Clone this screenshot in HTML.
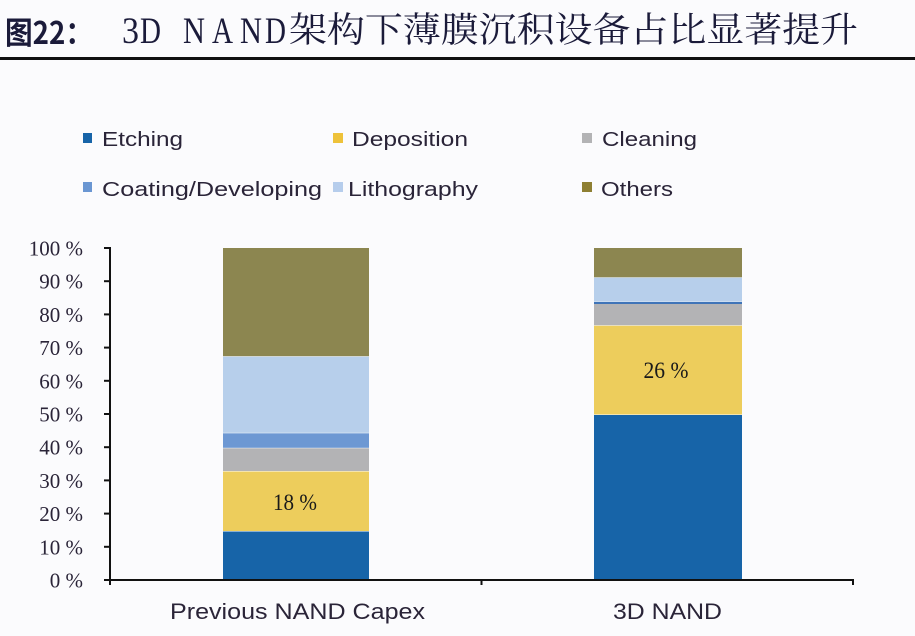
<!DOCTYPE html>
<html>
<head>
<meta charset="utf-8">
<style>
  html,body{margin:0;padding:0;background:#fbfbfd;}
  svg{display:block;}
</style>
</head>
<body>
<svg width="915" height="636" viewBox="0 0 915 636" xmlns="http://www.w3.org/2000/svg">
  <rect x="0" y="0" width="915" height="636" fill="#fbfbfd"/>

  <!-- Title -->
  <text x="5" y="44" font-family="'Noto Sans CJK SC','Liberation Sans',sans-serif" font-weight="bold" font-size="31" fill="#1b1b3a" textLength="88" lengthAdjust="spacingAndGlyphs">图22：</text>
  <g font-family="'Liberation Serif',serif" font-size="37" fill="#1b1b3a">
    <text x="122" y="43" textLength="17" lengthAdjust="spacingAndGlyphs">3</text>
    <text x="140" y="43" textLength="21" lengthAdjust="spacingAndGlyphs">D</text>
    <text x="183" y="43" textLength="22" lengthAdjust="spacingAndGlyphs">N</text>
    <text x="212" y="43" textLength="21" lengthAdjust="spacingAndGlyphs">A</text>
    <text x="240" y="43" textLength="22" lengthAdjust="spacingAndGlyphs">N</text>
    <text x="265" y="43" textLength="21" lengthAdjust="spacingAndGlyphs">D</text>
  </g>
  <text x="289" y="42" font-family="'Liberation Serif','Noto Serif CJK SC',serif" font-size="35" fill="#1b1b3a" textLength="569" lengthAdjust="spacingAndGlyphs">架构下薄膜沉积设备占比显著提升</text>
  <rect x="0" y="57" width="915" height="3" fill="#111"/>

  <!-- Legend -->
  <g font-family="'Liberation Sans',sans-serif" font-size="20" fill="#2a2438">
    <rect x="83" y="133" width="9" height="10" fill="#1764a8"/>
    <text x="102" y="146" textLength="81" lengthAdjust="spacingAndGlyphs">Etching</text>
    <rect x="333" y="133" width="10" height="10" fill="#eec23a"/>
    <text x="352" y="146" textLength="116" lengthAdjust="spacingAndGlyphs">Deposition</text>
    <rect x="582" y="133" width="10" height="10" fill="#b3b3b5"/>
    <text x="602" y="146" textLength="95" lengthAdjust="spacingAndGlyphs">Cleaning</text>

    <rect x="83" y="182" width="9" height="10" fill="#6a96d2"/>
    <text x="102" y="196" textLength="220" lengthAdjust="spacingAndGlyphs">Coating/Developing</text>
    <rect x="333" y="182" width="10" height="10" fill="#b6cdec"/>
    <text x="348" y="196" textLength="130" lengthAdjust="spacingAndGlyphs">Lithography</text>
    <rect x="582" y="182" width="10" height="10" fill="#8e7f33"/>
    <text x="601" y="196" textLength="72" lengthAdjust="spacingAndGlyphs">Others</text>
  </g>

  <!-- Bar 1: Previous NAND Capex -->
  <rect x="223" y="531.5" width="146" height="48.5" fill="#1764a8"/>
  <rect x="223" y="471.5" width="146" height="59.5" fill="#edcd5c"/>
  <rect x="223" y="448.3" width="146" height="22.7" fill="#b3b3b5"/>
  <rect x="223" y="433.3" width="146" height="14.5" fill="#6d98d3"/>
  <rect x="223" y="356.7" width="146" height="76.1" fill="#b7cfeb"/>
  <rect x="223" y="248" width="146" height="108.2" fill="#8c8650"/>

  <!-- Bar 2: 3D NAND -->
  <rect x="594" y="415" width="148" height="165" fill="#1764a8"/>
  <rect x="594" y="325.7" width="148" height="88.8" fill="#edcd5c"/>
  <rect x="594" y="304" width="148" height="21.2" fill="#b3b3b5"/>
  <rect x="594" y="302" width="148" height="2" fill="#3f74b8"/>
  <rect x="594" y="277.7" width="148" height="24" fill="#b7cfeb"/>
  <rect x="594" y="248" width="148" height="29.3" fill="#8c8650"/>

  <!-- Data labels -->
  <text x="295" y="510" text-anchor="middle" font-family="'Liberation Serif',serif" font-size="23" fill="#1a1a1a" textLength="44" lengthAdjust="spacingAndGlyphs">18 %</text>
  <text x="666" y="378" text-anchor="middle" font-family="'Liberation Serif',serif" font-size="23" fill="#1a1a1a" textLength="45" lengthAdjust="spacingAndGlyphs">26 %</text>

  <!-- Axes -->
  <rect x="109" y="247" width="2" height="334" fill="#111"/>
  <rect x="109" y="579" width="745" height="2" fill="#111"/>
  <g fill="#111">
    <rect x="104" y="247" width="6" height="2"/>
    <rect x="104" y="280.2" width="6" height="2"/>
    <rect x="104" y="313.4" width="6" height="2"/>
    <rect x="104" y="346.6" width="6" height="2"/>
    <rect x="104" y="379.8" width="6" height="2"/>
    <rect x="104" y="413" width="6" height="2"/>
    <rect x="104" y="446.2" width="6" height="2"/>
    <rect x="104" y="479.4" width="6" height="2"/>
    <rect x="104" y="512.6" width="6" height="2"/>
    <rect x="104" y="545.8" width="6" height="2"/>
    <rect x="104" y="579" width="6" height="2"/>
    <rect x="109" y="580" width="2" height="5"/>
    <rect x="480.5" y="580" width="2" height="5"/>
    <rect x="852" y="580" width="2" height="5"/>
  </g>

  <!-- Y labels -->
  <g font-family="'Liberation Serif',serif" font-size="21" fill="#2a2438" text-anchor="end">
    <text x="83" y="255.5">100 %</text>
    <text x="83" y="288.7">90 %</text>
    <text x="83" y="321.9">80 %</text>
    <text x="83" y="355.1">70 %</text>
    <text x="83" y="388.3">60 %</text>
    <text x="83" y="421.5">50 %</text>
    <text x="83" y="454.7">40 %</text>
    <text x="83" y="487.9">30 %</text>
    <text x="83" y="521.1">20 %</text>
    <text x="83" y="554.3">10 %</text>
    <text x="83" y="587.5">0 %</text>
  </g>

  <!-- X labels -->
  <g font-family="'Liberation Sans',sans-serif" font-size="22" fill="#2a2438">
    <text x="170" y="619" textLength="255" lengthAdjust="spacingAndGlyphs">Previous NAND Capex</text>
    <text x="613" y="619" textLength="109" lengthAdjust="spacingAndGlyphs">3D NAND</text>
  </g>
</svg>
</body>
</html>
